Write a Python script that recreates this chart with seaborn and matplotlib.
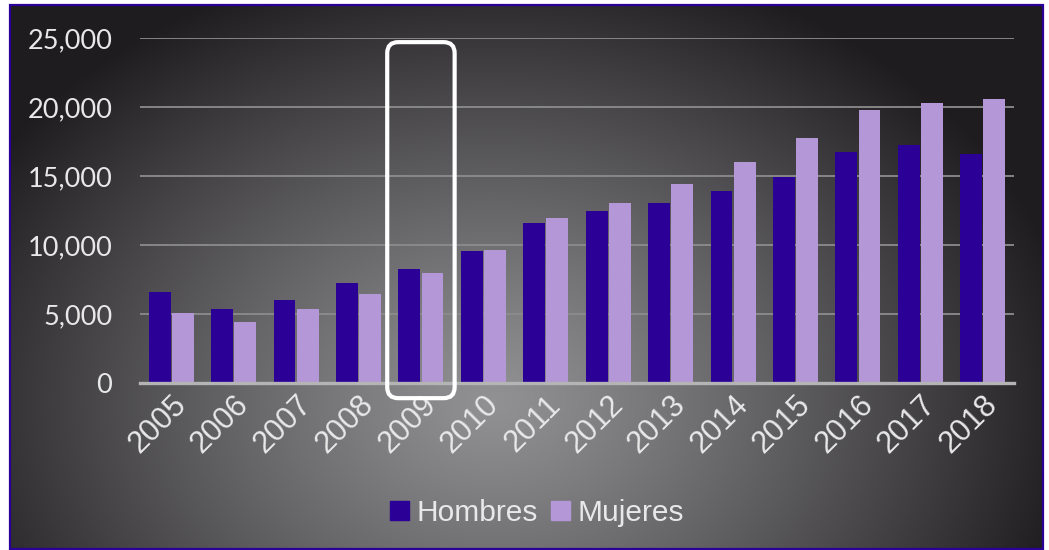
import matplotlib
matplotlib.use("Agg")
import matplotlib.pyplot as plt
import numpy as np
import pandas as pd
import seaborn as sns
from matplotlib.patches import FancyBboxPatch, Rectangle
from matplotlib.transforms import IdentityTransform
from matplotlib.ticker import FuncFormatter

years = ["2005", "2006", "2007", "2008", "2009", "2010", "2011",
         "2012", "2013", "2014", "2015", "2016", "2017", "2018"]
hombres = [6600, 5360, 6010, 7250, 8260, 9570, 11600,
           12460, 13040, 13910, 14930, 16740, 17250, 16590]
mujeres = [5070, 4420, 5360, 6450, 7970, 9640, 11960,
           13040, 14420, 16010, 17750, 19780, 20290, 20580]
series_names = ["Hombres", "Mujeres"]
highlight_year = "2009"

df = pd.DataFrame({
    "year": years * 2,
    "value": hombres + mujeres,
    "sexo": [series_names[0]] * len(years) + [series_names[1]] * len(years),
})

sns.set_theme(style="white")
plt.rcParams["font.family"] = ["Liberation Sans", "DejaVu Sans"]

W, H = 1049, 550
fig = plt.figure(figsize=(W / 100, H / 100), dpi=100)
fig.patch.set_facecolor("white")

# background: radial grey gradient inside a blue frame
bg = fig.add_axes([0, 0, 1, 1])
bg.set_xlim(0, W)
bg.set_ylim(H, 0)
bg.axis("off")
xx, yy = np.meshgrid(np.arange(W), np.arange(H))
r = np.sqrt(((xx - 490) / 600.0) ** 2 + ((yy - 400) / 460.0) ** 2)
t = np.clip(r, 0, 1) ** 1.15
c0 = np.array([0.57, 0.57, 0.58])
c1 = np.array([0.12, 0.11, 0.12])
img = c0[None, None, :] * (1 - t[..., None]) + c1[None, None, :] * t[..., None]
bg.imshow(img, extent=(10, 1043, 549, 5), aspect="auto", zorder=0)
bg.add_patch(Rectangle((10, 5), 1033, 544, fill=False, edgecolor="#2B0099", lw=1.6, zorder=2))

ax = fig.add_axes([140 / W, 1 - 383 / H, (1014 - 140) / W, (383 - 38) / H])
ax.patch.set_alpha(0)
sns.barplot(data=df, x="year", y="value", hue="sexo", palette=["#2A0096", "#B497D6"],
            width=0.74, gap=0.05, saturation=1, linewidth=0, ax=ax, zorder=3)

ax.set_ylim(0, 25000)
ax.set_xlim(-0.5, len(years) - 0.5)
ax.set_yticks(range(0, 25001, 5000))
ax.yaxis.set_major_formatter(FuncFormatter(lambda v, p: f"{int(v):,}"))
ax.grid(axis="y", color="#8c8c8c", lw=1.3, zorder=1)
ax.set_axisbelow(True)
for s in ["top", "right", "left"]:
    ax.spines[s].set_visible(False)
ax.spines["bottom"].set_color("#b4b4b4")
ax.spines["bottom"].set_linewidth(2.4)
ax.spines["bottom"].set_zorder(4)
ax.set_xlabel("")
ax.set_ylabel("")
ax.tick_params(axis="y", length=0, pad=20, labelsize=19.5, labelcolor="#e8e8e8")
ax.tick_params(axis="x", length=0, pad=5, labelsize=22, labelcolor="#e8e8e8")
for lab in ax.get_yticklabels():
    lab.set_family(["Lato", "DejaVu Sans"])
for lab in ax.get_xticklabels():
    lab.set_rotation(45)
    lab.set_ha("right")
    lab.set_va("top")
    lab.set_rotation_mode("anchor")

ax.get_legend().remove()
handles = [plt.Rectangle((0, 0), 1, 1, color=c) for c in ["#2A0096", "#B497D6"]]
leg = fig.legend(handles, series_names, loc="center", bbox_to_anchor=(537 / W, 1 - 513 / H),
                 ncol=2, frameon=False, fontsize=21.5, handlelength=0.64, handleheight=0.64,
                 handletextpad=0.25, columnspacing=0.45, borderaxespad=0)
for tx in leg.get_texts():
    tx.set_color("#e8e8e8")

# rounded white box around the highlighted year
fig.canvas.draw()
i = years.index(highlight_year)
x0, y0 = ax.transData.transform((i - 0.54, -1100))
x1, y1 = ax.transData.transform((i + 0.54, 24700))
box = FancyBboxPatch((x0, y0), x1 - x0, y1 - y0, boxstyle="round,pad=0,rounding_size=11",
                     fill=False, edgecolor="white", lw=3.0, transform=IdentityTransform(),
                     zorder=10, clip_on=False)
fig.patches.append(box)

fig.savefig("out.png", dpi=100)
